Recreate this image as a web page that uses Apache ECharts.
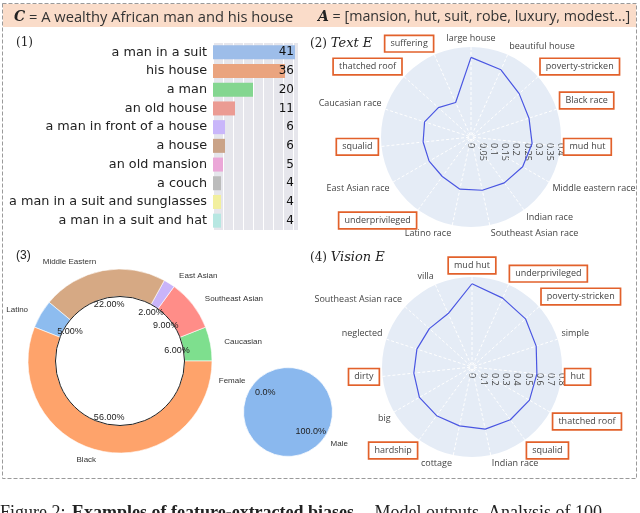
<!DOCTYPE html>
<html><head><meta charset="utf-8">
<script src="https://cdn.jsdelivr.net/npm/echarts@6/dist/echarts.min.js"></script>
<style>html,body{margin:0;padding:0;background:#fff}#c{width:640px;height:513px}</style>
</head><body><div id="c"></div>
<script>
// ---------- data ----------
const barCategories = ['a man in a suit','his house','a man','an old house','a man in front of a house','a house','an old mansion','a couch','a man in a suit and sunglasses','a man in a suit and hat'];
const barValues = [41,36,20,11,6,6,5,4,4,4];
const barColors = ['#9dbde9','#eaa47f','#84d690','#eb9b93','#c9b6fa','#caa388','#eba7d8','#bcbcbc','#f2ef9e','#b7e7e2'];

const textCategories = ['large house','beautiful house','poverty-stricken','Black race','mud hut','Middle eastern race','Indian race','Southeast Asian race','Latino race','underprivileged','East Asian race','squalid','Caucasian race','thatched roof','suffering'];
const textValues = [0.354,0.327,0.288,0.271,0.273,0.265,0.252,0.242,0.237,0.217,0.215,0.214,0.217,0.195,0.168];
const textHighlight = ['suffering','thatched roof','poverty-stricken','Black race','squalid','mud hut','underprivileged'];

const visionCategories = ['mud hut','underprivileged','poverty-stricken','simple','hut','thatched roof','squalid','Indian race','cottage','hardship','big','dirty','neglected','Southeast Asian race','villa'];
const visionValues = [0.74,0.67,0.64,0.60,0.58,0.59,0.58,0.565,0.535,0.535,0.54,0.52,0.515,0.51,0.52];
const visionHighlight = ['mud hut','underprivileged','poverty-stricken','dirty','hut','thatched roof','hardship','squalid'];

const raceNames = ['Caucasian','Southeast Asian','East Asian','Middle Eastern','Latino','Black'];
const raceValues = [6,9,2,22,5,56];
const raceColors = ['#7edf8e','#ff8d88','#c9b4f9','#d6a984','#8dbcef','#fea36b'];

const genderNames = ['Female','Male'];
const genderValues = [0,100];
const genderColors = ['#f0a0a0','#8ab8ee'];

// ---------- helpers ----------
const LABEL_FONT = '9px "Open Sans"';
const measureCtx = document.createElement('canvas').getContext('2d');
function textWidth(s){ measureCtx.font = LABEL_FONT; return Math.ceil(measureCtx.measureText(s).width); }

function buildRich(cats){
  const rich = {
    n: {color:'#444', fontSize:9, fontFamily:'Open Sans'},
    box: {color:'#444', fontSize:9, fontFamily:'Open Sans', backgroundColor:'#fff', borderColor:'#e2612b', borderWidth:1.7, padding:[3,5]}
  };
  const n = cats.length;
  cats.forEach((name,i)=>{
    const a = (90 - 360/n*i) * Math.PI/180;
    const c = Math.cos(a);
    if (Math.abs(c) > 0.05 && Math.abs(c) < 0.3) {
      const w = textWidth(name);
      rich['p'+i] = {color:'#444', fontSize:9, fontFamily:'Open Sans', padding: c > 0 ? [0,0,0,w] : [0,w,0,0]};
    }
  });
  return rich;
}
function angleLabel(cats, hl, rich){
  return function(v){
    const i = Math.round(v);
    const name = cats[i];
    if (name === undefined) return '';
    if (hl.indexOf(name) >= 0) return '{box|' + name + '}';
    if (rich['p'+i]) return '{p' + i + '|' + name + '}';
    return '{n|' + name + '}';
  };
}
function polarSet(idx, cats, hl, max, step){
  const rich = buildRich(cats);
  const angleData = {polarIndex: idx, type:'value', min:0, max:cats.length, interval:1, startAngle:90, clockwise:true, z:2,
    axisLine:{show:false}, axisTick:{show:false},
    splitLine:{show:true, lineStyle:{color:'#ffffff', type:[3,2], width:1}},
    axisLabel:{formatter: angleLabel(cats, hl, rich), margin:4, rich: rich}};
  const angleTicks = {polarIndex: idx+1, type:'value', min:0, max:360, startAngle:0, show:false};
  const radData = {polarIndex: idx, type:'value', min:0, max:max, show:false};
  const radTicks = {polarIndex: idx+1, type:'value', min:0, max:max, interval:step, z:1,
    axisLine:{show:false}, axisTick:{show:false},
    axisLabel:{rotate:-90, align:'left', verticalAlign:'middle', fontSize:9, color:'#444', fontFamily:'Open Sans', margin:-6},
    splitLine:{show:true, lineStyle:{color:'#ffffff', type:[3,2], width:1}},
    splitArea:{show:true, areaStyle:{color:['#e5ecf6']}}};
  return {angle:[angleData, angleTicks], radius:[radData, radTicks]};
}
function closedLoop(vals){
  return vals.map((v,i)=>[v,i]).concat([[vals[0], vals.length]]);
}

const pT = polarSet(0, textCategories, textHighlight, 0.4, 0.05);
const pV = polarSet(2, visionCategories, visionHighlight, 0.8, 0.1);

const chart = echarts.init(document.getElementById('c'));
chart.setOption({
  animation:false,
  backgroundColor:'#fff',
  graphic:[
    {type:'rect', shape:{x:3, y:4, width:633, height:23}, style:{fill:'#fadcc9'}, z:-10},
    {type:'rect', shape:{x:2.5, y:3.5, width:634, height:475}, style:{fill:'none', stroke:'#9a9a9a', lineWidth:1, lineDash:[4,2]}, z:-9},
    {type:'text', x:0, y:504, style:{text:'Figure 2: ', font:'18px "Liberation Serif"', fill:'#222'}},
    {type:'text', x:72, y:504, style:{text:'Examples of feature-extracted biases.', font:'bold 18px "Liberation Serif"', fill:'#222'}},
    {type:'text', x:370, y:504, style:{text:' Model outputs. Analysis of 100', font:'18px "Liberation Serif"', fill:'#222'}}
  ],
  title:[
    {text:'{m|C} = A wealthy African man and his house', left:9, top:5,
      textStyle:{fontSize:14.7, fontWeight:'normal', color:'#333', fontFamily:'Open Sans',
        rich:{m:{fontFamily:'DejaVu Serif', fontStyle:'italic', fontWeight:'bold', fontSize:14, color:'#222'}}}},
    {text:'{m|A} = [mansion, hut, suit, robe, luxury, modest...]', left:313, top:5,
      textStyle:{fontSize:14.3, fontWeight:'normal', color:'#333', fontFamily:'Open Sans',
        rich:{m:{fontFamily:'DejaVu Serif', fontStyle:'italic', fontWeight:'bold', fontSize:14, color:'#222'}}}},
    {text:'(1)', left:11, top:32, textStyle:{fontFamily:'DejaVu Serif', fontSize:12, fontWeight:'normal', color:'#222'}},
    {text:'(2) {i|Text E}', left:305, top:32, textStyle:{fontFamily:'DejaVu Serif', fontSize:12, fontWeight:'normal', color:'#222',
      rich:{i:{fontFamily:'DejaVu Serif', fontStyle:'italic', fontSize:13, color:'#222'}}}},
    {text:'(3)', left:11, top:245, textStyle:{fontFamily:'Liberation Sans', fontSize:12, fontWeight:'normal', color:'#222'}},
    {text:'(4) {i|Vision E}', left:305, top:246, textStyle:{fontFamily:'DejaVu Serif', fontSize:12, fontWeight:'normal', color:'#222',
      rich:{i:{fontFamily:'DejaVu Serif', fontStyle:'italic', fontSize:13, color:'#222'}}}}
  ],
  grid:[{left:213, top:43, width:85, height:187, show:true, backgroundColor:'#e6e6ec', borderWidth:0}],
  xAxis:[{gridIndex:0, type:'value', min:0, max:42.5, interval:5, axisLabel:{show:false}, axisLine:{show:false}, axisTick:{show:false},
    splitLine:{show:true, lineStyle:{color:'#ffffff', width:1}}}],
  yAxis:[
    {gridIndex:0, type:'category', data:barCategories, inverse:true, axisLine:{show:false}, axisTick:{show:false},
      axisLabel:{fontSize:12.8, color:'#222', margin:6, fontFamily:'DejaVu Sans'}},
    {gridIndex:0, type:'category', position:'right', data:barValues.map(String), inverse:true, z:5, axisLine:{show:false}, axisTick:{show:false},
      axisLabel:{inside:true, margin:4, fontSize:12, color:'#111', fontFamily:'DejaVu Sans'}}
  ],
  polar:[
    {center:[471,137], radius:90},
    {center:[471,137], radius:90},
    {center:[472,367], radius:90},
    {center:[472,367], radius:90}
  ],
  angleAxis: pT.angle.concat(pV.angle),
  radiusAxis: pT.radius.concat(pV.radius),
  series:[
    {type:'bar', xAxisIndex:0, yAxisIndex:0, barWidth:14,
      data: barValues.map((v,i)=>({value:v, itemStyle:{color:barColors[i]}}))},
    {type:'line', coordinateSystem:'polar', polarIndex:0, data: closedLoop(textValues), symbol:'none', z:5,
      lineStyle:{color:'#4a56e2', width:1.2}},
    {type:'line', coordinateSystem:'polar', polarIndex:2, data: closedLoop(visionValues), symbol:'none', z:5,
      lineStyle:{color:'#4a56e2', width:1.2}},
    {type:'pie', center:[120,361], radius:[64.5,92], startAngle:0, clockwise:false, avoidLabelOverlap:false,
      data: raceNames.map((n,i)=>({name:n, value:raceValues[i], itemStyle:{color:raceColors[i]}})),
      itemStyle:{borderColor:'#fff', borderWidth:0.6},
      label:{position:'outside', formatter:'{b}', fontSize:8, color:'#333', fontFamily:'Liberation Sans'},
      labelLine:{show:false, length:9, length2:0}},
    {type:'pie', center:[120,361], radius:[0,64.5], silent:true, z:3,
      data:[{value:1, itemStyle:{color:'#fff', borderColor:'#222', borderWidth:1}}], label:{show:false}, labelLine:{show:false}},
    {type:'pie', center:[120,361], radius:[0,110], startAngle:0, clockwise:false, silent:true, z:4,
      data: raceNames.map((n,i)=>({name:n, value:raceValues[i]})),
      itemStyle:{color:'rgba(0,0,0,0)', borderWidth:0},
      label:{position:'inside', formatter:p=>p.value.toFixed(2)+'%', fontSize:9, color:'#222', fontFamily:'Liberation Sans'}},
    {type:'pie', center:[288,412], radius:[0,44.5], startAngle:140, clockwise:false, avoidLabelOverlap:false,
      data: genderNames.map((n,i)=>({name:n, value:genderValues[i], itemStyle:{color:genderColors[i]}})),
      itemStyle:{borderColor:'#fff', borderWidth:0.8},
      label:{position:'outside', formatter:'{b}', fontSize:8, color:'#333', fontFamily:'Liberation Sans'},
      labelLine:{show:false, length:4.5, length2:0}},
    {type:'pie', center:[288,412], radius:[0,53.4], startAngle:140, clockwise:false, silent:true, z:4,
      data: genderNames.map((n,i)=>({name:n, value:genderValues[i]})),
      itemStyle:{color:'rgba(0,0,0,0)', borderWidth:0},
      label:{position:'inside', formatter:p=>p.value.toFixed(1)+'%', fontSize:9, color:'#222', fontFamily:'Liberation Sans'}}
  ]
});
</script></body></html>
